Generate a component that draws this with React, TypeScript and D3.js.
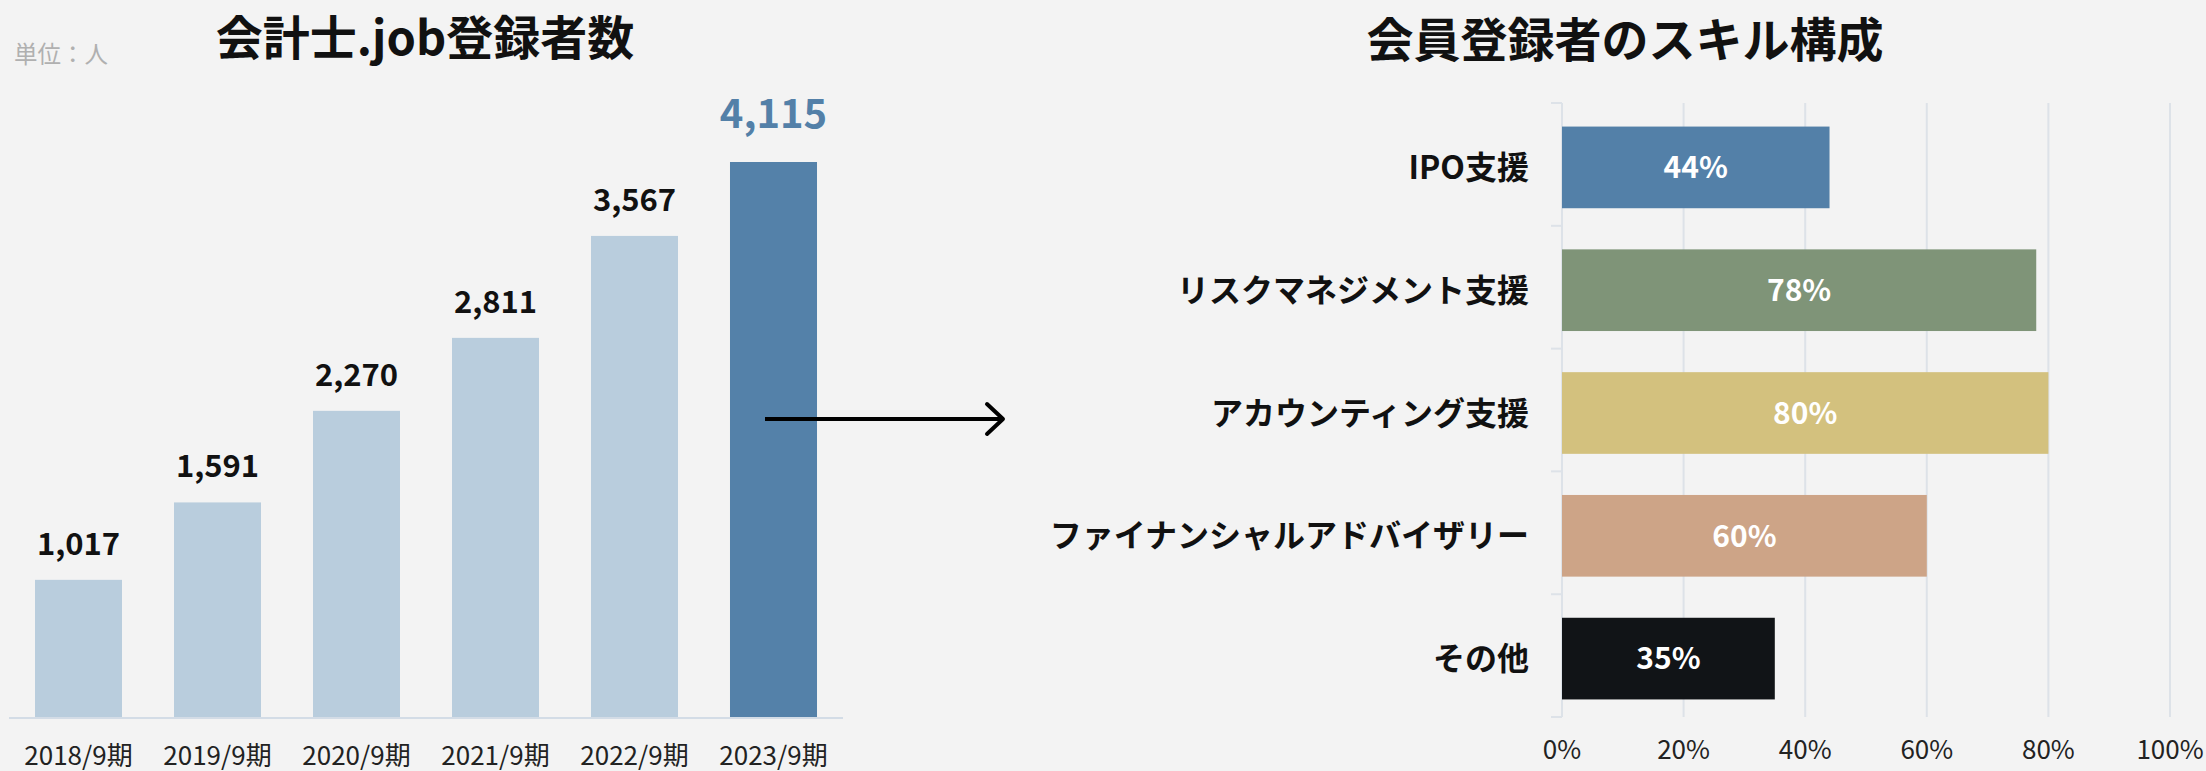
import * as d3 from "d3";
import { useEffect, useRef } from "react";

// left chart: registrations per fiscal year
const years = ["2018/9期", "2019/9期", "2020/9期", "2021/9期", "2022/9期", "2023/9期"];
const registrants = [1017, 1591, 2270, 2811, 3567, 4115];

// right chart: skill mix of members
const skills = ["IPO支援", "リスクマネジメント支援", "アカウンティング支援", "ファイナンシャルアドバイザリー", "その他"];
const skillShares = [44, 78, 80, 60, 35];
const skillColors = ["#5380a8", "#7f9478", "#d3c17e", "#cda487", "#111417"];
const pctTicks = [0, 20, 40, 60, 80, 100];

const W = 2206;
const H = 771;
const FONT = "'Noto Sans CJK JP', 'Noto Sans', sans-serif";

export default function App() {
  const ref = useRef<SVGSVGElement | null>(null);

  useEffect(() => {
    const svg = d3.select(ref.current);
    svg.selectAll("*").remove();
    svg.attr("width", W).attr("height", H).style("font-family", FONT);

    svg.append("rect").attr("width", W).attr("height", H).attr("fill", "#f3f3f3");

    // ---------- left: bar chart ----------
    const x = d3.scaleBand<string>().domain(years).range([9, 843]).paddingInner(0.374).paddingOuter(0.187);
    const y = d3.scaleLinear().domain([0, 4115]).range([717, 162]);
    const last = years.length - 1;

    svg.append("text")
      .attr("x", 14).attr("y", 63)
      .attr("font-size", 23.5).attr("fill", "#b0b0b0")
      .text("単位：人");

    svg.append("text")
      .attr("x", 425).attr("y", 55)
      .attr("text-anchor", "middle")
      .attr("font-size", 47).attr("font-weight", 700).attr("fill", "#111")
      .text("会計士.job登録者数");

    const left = svg.append("g");
    left.selectAll("rect")
      .data(registrants)
      .enter()
      .append("rect")
      .attr("x", (_, i) => x(years[i])!)
      .attr("width", x.bandwidth())
      .attr("y", (d) => y(d))
      .attr("height", (d) => y(0) - y(d))
      .attr("fill", (_, i) => (i === last ? "#5481a9" : "#b9cddd"));

    left.append("line")
      .attr("x1", 9).attr("x2", 843)
      .attr("y1", y(0) + 1).attr("y2", y(0) + 1)
      .attr("stroke", "#d3dce6").attr("stroke-width", 2);

    left.selectAll("text.val")
      .data(registrants)
      .enter()
      .append("text")
      .attr("class", "val")
      .attr("x", (_, i) => x(years[i])! + x.bandwidth() / 2)
      .attr("y", (d, i) => y(d) - (i === last ? 34 : 25))
      .attr("text-anchor", "middle")
      .attr("font-weight", 700)
      .attr("font-size", (_, i) => (i === last ? 40 : 31))
      .attr("fill", (_, i) => (i === last ? "#5380a8" : "#111"))
      .text((d) => d3.format(",")(d));

    left.selectAll("text.yr")
      .data(years)
      .enter()
      .append("text")
      .attr("class", "yr")
      .attr("x", (d) => x(d)! + x.bandwidth() / 2)
      .attr("y", 765)
      .attr("text-anchor", "middle")
      .attr("font-size", 26).attr("fill", "#222")
      .text((d) => d);

    // arrow between the charts
    svg.append("line")
      .attr("x1", 765).attr("x2", 1002).attr("y1", 419).attr("y2", 419)
      .attr("stroke", "#000").attr("stroke-width", 4);
    svg.append("path")
      .attr("d", "M987,404 L1003,419 L987,434")
      .attr("fill", "none").attr("stroke", "#000").attr("stroke-width", 4)
      .attr("stroke-linecap", "round").attr("stroke-linejoin", "round");

    // ---------- right: horizontal bars ----------
    const xp = d3.scaleLinear().domain([0, 100]).range([1562, 2170]);
    const yb = d3.scaleBand<string>().domain(skills).range([103, 717]).paddingInner(0.335).paddingOuter(0.1675);

    svg.append("text")
      .attr("x", 1625).attr("y", 57)
      .attr("text-anchor", "middle")
      .attr("font-size", 47).attr("font-weight", 700).attr("fill", "#111")
      .text("会員登録者のスキル構成");

    const right = svg.append("g");
    right.selectAll("line.grid")
      .data(pctTicks)
      .enter()
      .append("line")
      .attr("class", "grid")
      .attr("x1", (d) => xp(d)).attr("x2", (d) => xp(d))
      .attr("y1", 103).attr("y2", 717)
      .attr("stroke", "#dde2e8").attr("stroke-width", 2);

    // category boundary ticks on the y axis
    const bounds = d3.range(skills.length + 1).map((i) => 103 + i * yb.step());
    right.selectAll("line.tick")
      .data(bounds)
      .enter()
      .append("line")
      .attr("class", "tick")
      .attr("x1", xp(0) - 11).attr("x2", xp(0))
      .attr("y1", (d) => d).attr("y2", (d) => d)
      .attr("stroke", "#dde2e8").attr("stroke-width", 2);

    right.selectAll("rect")
      .data(skillShares)
      .enter()
      .append("rect")
      .attr("x", xp(0))
      .attr("y", (_, i) => yb(skills[i])! + 3)
      .attr("width", (d) => xp(d) - xp(0))
      .attr("height", yb.bandwidth())
      .attr("fill", (_, i) => skillColors[i]);

    right.selectAll("text.val")
      .data(skillShares)
      .enter()
      .append("text")
      .attr("class", "val")
      .attr("x", (d) => (xp(0) + xp(d)) / 2)
      .attr("y", (_, i) => yb(skills[i])! + 3 + yb.bandwidth() / 2)
      .attr("dy", "0.36em")
      .attr("text-anchor", "middle")
      .attr("font-size", 30).attr("font-weight", 700).attr("fill", "#fff")
      .text((d) => d + "%");

    right.selectAll("text.cat")
      .data(skills)
      .enter()
      .append("text")
      .attr("class", "cat")
      .attr("x", 1529)
      .attr("y", (d) => yb(d)! + 3 + yb.bandwidth() / 2)
      .attr("dy", "0.36em")
      .attr("text-anchor", "end")
      .attr("font-size", 32).attr("font-weight", 700).attr("fill", "#111")
      .text((d) => d);

    right.selectAll("text.pct")
      .data(pctTicks)
      .enter()
      .append("text")
      .attr("class", "pct")
      .attr("x", (d) => xp(d))
      .attr("y", 759)
      .attr("text-anchor", "middle")
      .attr("font-size", 26).attr("fill", "#222")
      .text((d) => d + "%");
  }, []);

  return <svg ref={ref} style={{ position: "absolute", left: 0, top: 0 }}></svg>;
}
